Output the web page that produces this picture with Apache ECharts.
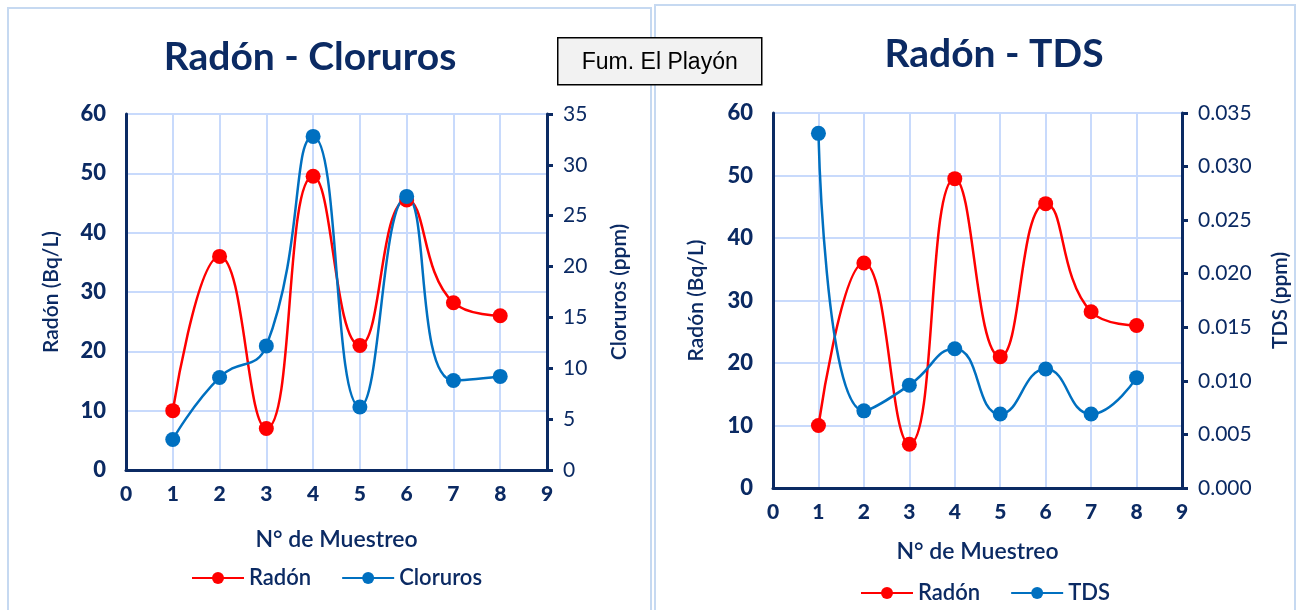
<!DOCTYPE html>
<html>
<head>
<meta charset="utf-8">
<script src="https://cdn.jsdelivr.net/npm/echarts@6/dist/echarts.min.js"></script>
<style>
  html, body { margin: 0; padding: 0; background: #ffffff; }
  #chart { width: 1304px; height: 610px; }
</style>
</head>
<body>
<div id="chart"></div>
<script>
// Sample numbers (N° de Muestreo) and measured values
const muestreo = [1, 2, 3, 4, 5, 6, 7, 8];
const radon = [10, 36, 7, 49.5, 21, 45.5, 28.2, 26];          // Bq/L
const cloruros = [3, 9.1, 12.2, 32.8, 6.2, 26.9, 8.8, 9.2];     // ppm
const tds = [0.0331, 0.0072, 0.0096, 0.0130, 0.0069, 0.0111, 0.0069, 0.0103]; // ppm

const titles = ['Radón - Cloruros', 'Radón - TDS'];
const stationLabel = 'Fum. El Playón';

const NAVY = '#0b2a63';
const GRID = '#c8dafc';
const RED = '#ff0000';
const BLUE = '#0070c0';
const FONT = 'Lato, "Open Sans", sans-serif';

const pairs = vals => muestreo.map((m, i) => [m, vals[i]]);

function xAxis(gridIndex, nameGap) {
  return {
    type: 'value', gridIndex, min: 0, max: 9, interval: 1,
    name: 'N° de Muestreo', nameLocation: 'middle', nameGap,
    nameTextStyle: { color: NAVY, fontFamily: FONT, fontSize: 23, fontWeight: 600 },
    axisLine: { show: true, onZero: false, lineStyle: { color: NAVY, width: 3 } },
    axisTick: { show: false },
    axisLabel: { color: NAVY, fontFamily: FONT, fontSize: 21, fontWeight: 900, margin: 14 },
    splitLine: { show: true, lineStyle: { color: GRID, width: 2 } }
  };
}

function leftY(gridIndex, nameGap) {
  return {
    type: 'value', gridIndex, min: 0, max: 60, interval: 10, position: 'left',
    name: 'Radón (Bq/L)', nameLocation: 'middle', nameGap,
    nameTextStyle: { color: NAVY, fontFamily: FONT, fontSize: 21, fontWeight: 600 },
    axisLine: { show: true, lineStyle: { color: NAVY, width: 3 } },
    axisTick: { show: false },
    axisLabel: { color: NAVY, fontFamily: FONT, fontSize: 22, fontWeight: 900, margin: 20 },
    splitLine: { show: true, lineStyle: { color: GRID, width: 2 } }
  };
}

function rightY(gridIndex, name, max, interval, nameGap, fmt) {
  return {
    type: 'value', gridIndex, min: 0, max, interval, position: 'right',
    name, nameLocation: 'middle', nameGap,
    nameTextStyle: { color: NAVY, fontFamily: FONT, fontSize: 21, fontWeight: 600 },
    axisLine: { show: true, lineStyle: { color: NAVY, width: 3 } },
    axisTick: { show: true, inside: false, length: 6, lineStyle: { color: NAVY, width: 3 } },
    axisLabel: { color: NAVY, fontFamily: FONT, fontSize: 21, margin: 16, formatter: fmt },
    splitLine: { show: false }
  };
}

function lineSeries(name, data, color, xi, yi) {
  return {
    name, type: 'line', xAxisIndex: xi, yAxisIndex: yi,
    data: pairs(data), smooth: 0.5,
    symbol: 'circle', symbolSize: 15,
    lineStyle: { color, width: 2.5 },
    itemStyle: { color },
    emphasis: { disabled: true },
    z: 3
  };
}

const chart = echarts.init(document.getElementById('chart'), null, { renderer: 'canvas' });

chart.setOption({
  animation: false,
  backgroundColor: '#ffffff',
  title: [
    { text: titles[0], left: 305, top: 33, textAlign: 'center',
      textStyle: { color: NAVY, fontFamily: FONT, fontSize: 39, fontWeight: 'bold' } },
    { text: titles[1], left: 989, top: 30, textAlign: 'center',
      textStyle: { color: NAVY, fontFamily: FONT, fontSize: 39, fontWeight: 'bold' } }
  ],
  legend: [
    { data: ['Radón', 'Cloruros'], left: 186, top: 562, itemWidth: 52, itemHeight: 15, itemGap: 30,
      textStyle: { color: NAVY, fontFamily: FONT, fontSize: 22, fontWeight: 600 }, selectedMode: false },
    { data: ['Radón', 'TDS'], left: 855, top: 577, itemWidth: 52, itemHeight: 15, itemGap: 30,
      textStyle: { color: NAVY, fontFamily: FONT, fontSize: 22, fontWeight: 600 }, selectedMode: false }
  ],
  grid: [
    { left: 126, top: 114, width: 421, height: 356 },
    { left: 773, top: 113, width: 409, height: 375 }
  ],
  xAxis: [xAxis(0, 58), xAxis(1, 52)],
  yAxis: [
    leftY(0, 64),
    rightY(0, 'Cloruros (ppm)', 35, 5, 62, v => String(v)),
    leftY(1, 66),
    rightY(1, 'TDS (ppm)', 0.035, 0.005, 88, v => v.toFixed(3))
  ],
  series: [
    lineSeries('Radón', radon, RED, 0, 0),
    lineSeries('Cloruros', cloruros, BLUE, 0, 1),
    lineSeries('Radón', radon, RED, 1, 2),
    lineSeries('TDS', tds, BLUE, 1, 3)
  ],
  graphic: [
    { type: 'rect', shape: { x: 8, y: 8, width: 643, height: 610 }, silent: true,
      style: { fill: null, stroke: '#c6d9f1', lineWidth: 2 }, z: 0 },
    { type: 'rect', shape: { x: 655, y: 5, width: 640, height: 615 }, silent: true,
      style: { fill: null, stroke: '#c6d9f1', lineWidth: 2 }, z: 0 },
    { type: 'group', left: 557, top: 37, z: 100, children: [
      { type: 'rect', shape: { x: 0, y: 0, width: 204, height: 47 },
        style: { fill: '#f2f2f2', stroke: '#000000', lineWidth: 1.5 } },
      { type: 'text', x: 102, y: 25,
        style: { text: stationLabel, fill: '#000000', font: '23px "Liberation Sans", Arial, sans-serif',
                 align: 'center', verticalAlign: 'middle' } }
    ] }
  ]
});
</script>
</body>
</html>
